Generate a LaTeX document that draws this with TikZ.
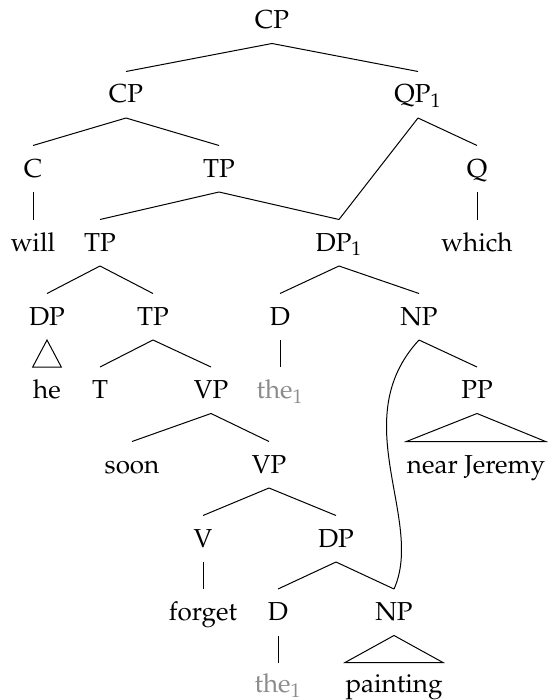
\documentclass[tikz,border=0pt]{standalone}
\usepackage[T1]{fontenc}
\usepackage{mathpazo}
\usepackage{xcolor}
\usetikzlibrary{calc}

\tikzset{
	cat/.style = {anchor = base, inner sep = 0pt, text height = 15.5pt, text depth = 7.25pt, font = \fontsize{13}{15}\selectfont},
	trace/.style = {cat, text = black!45},
}

\begin{document}
\begin{tikzpicture}[x = 0.5pt, y = -0.5pt, line width = 0.5pt]
		\useasboundingbox (0,0) rectangle (547,700);
		
		% categories, row by row
		\node [cat] (cp) at (272,28.5) {CP};
		
		\node [cat] (cpb) at (126,103) {CP};
		\node [cat] (qp) at (418,103) {QP$_1$};
		
		\node [cat] (c) at (33,177) {C};
		\node [cat] (tp) at (219,177) {TP};
		\node [cat] (q) at (477,177) {Q};
		
		\node [cat] (will) at (33,251) {will};
		\node [cat] (tpb) at (100,251) {TP};
		\node [cat] (dp) at (339,251) {DP$_1$};
		\node [cat] (which) at (477,251) {which};
		
		\node [cat] (dpb) at (47,325) {DP};
		\node [cat] (tpc) at (153,325) {TP};
		\node [cat] (d) at (280,325) {D};
		\node [cat] (np) at (419,325) {NP};
		
		\node [cat] (he) at (47,398.5) {he};
		\node [cat] (t) at (100,398.5) {T};
		\node [cat] (vp) at (211,398.5) {VP};
		\node [trace] (the) at (280,398.5) {the$_1$};
		\node [cat] (pp) at (477,398.5) {PP};
		
		\node [cat] (soon) at (132,473) {soon};
		\node [cat] (vpb) at (269,473) {VP};
		\node [cat] (near) at (476,473) {near Jeremy};
		
		\node [cat] (v) at (203,547) {V};
		\node [cat] (dpc) at (336,547) {DP};
		
		\node [cat] (forget) at (203,620.5) {forget};
		\node [cat] (db) at (278,620.5) {D};
		\node [cat] (npb) at (394,620.5) {NP};
		
		\node [trace] (theb) at (278,692.5) {the$_1$};
		\node [cat] (painting) at (394,692.5) {painting};
		
		% branches
		\foreach \m/\n in {cp/cpb, cp/qp, cpb/c, cpb/tp, qp/q, qp/dp, c/will, tp/tpb, tp/dp, q/which,
				tpb/dpb, tpb/tpc, dp/d, dp/np, tpc/t, tpc/vp, d/the, np/pp, vp/soon, vp/vpb,
				vpb/v, vpb/dpc, v/forget, dpc/db, dpc/npb}
			\draw (\m.south) -- (\n.north);
		\draw (db.south) -- ($(theb.north) + (0,1.5)$);
		
		% roofs
		\draw (dpb.south) -- (he.north west) -- (he.north east) -- cycle;
		\draw (pp.south) -- (near.north west) -- (near.north east) -- cycle;
		\draw (npb.south) -- ($(painting.north west) + (0,1.5)$) -- ($(painting.north east) + (0,1.5)$) -- cycle;
		
		% movement
		\draw (np.south) .. controls (345,420) and (425,520) .. (npb.north);
	\end{tikzpicture}
\end{document}
